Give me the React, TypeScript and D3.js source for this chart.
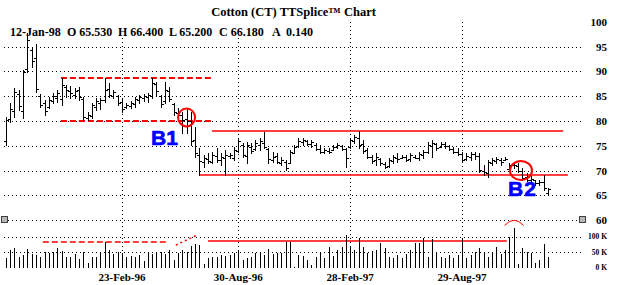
import React from 'react';
import * as d3 from 'd3';

// Weekly OHLC (Cotton CT), Aug-95 .. 12-Jan-98
const highs = [80.8,83.6,86.6,86.2,90.3,97.8,94.7,95.5,85.5,84.2,84.8,85.6,86.2,88.6,87.2,87.0,86.6,86.8,84.8,81.8,
  83.6,84.6,84.6,88.6,87.6,86.2,85.2,84.6,83.6,84.0,84.8,85.2,85.4,85.6,88.6,87.8,85.2,87.8,86.8,83.6,
  82.6,81.8,82.4,81.8,78.8,74.5,73.1,73.5,73.7,74.5,73.5,74.1,73.5,74.7,76.5,75.5,75.7,75.5,76.1,76.5,
  77.8,74.5,73.7,73.5,72.7,72.1,74.1,75.1,76.5,76.5,76.1,76.1,75.5,75.1,74.5,74.5,75.1,75.5,75.1,74.5,
  76.5,77.2,78.0,76.1,74.5,73.1,73.5,72.5,71.7,72.5,73.1,73.5,73.1,73.1,73.5,73.1,73.7,74.1,75.7,76.1,
  75.5,75.7,75.7,75.1,74.8,74.5,73.7,73.5,73.7,73.7,73.5,71.1,72.1,72.5,72.7,72.5,72.7,71.5,71.5,71.5,
  70.5,69.5,68.8,68.1,68.1,69.1,66.4];
const lows = [75.1,79.8,80.8,82.2,80.6,89.9,90.9,85.8,82.8,81.2,82.6,83.6,83.8,83.2,84.8,84.6,84.6,84.2,80.2,80.2,
  80.6,82.2,82.4,83.8,84.8,84.6,83.2,81.8,82.6,82.6,82.8,83.6,84.0,83.8,84.6,85.2,82.8,83.6,84.0,81.2,
  80.8,77.6,77.6,75.1,72.7,69.1,70.7,71.5,71.5,71.7,71.1,69.1,72.5,72.1,73.7,72.7,71.5,73.5,74.1,74.1,
  74.5,71.5,71.7,71.5,71.1,70.1,71.5,73.5,74.7,75.1,75.1,74.7,74.1,73.5,73.5,73.5,74.1,74.5,74.1,70.7,
  74.5,75.5,74.5,73.5,72.5,71.5,71.1,71.1,70.5,70.7,71.5,71.7,72.5,71.9,71.9,72.5,72.1,72.5,73.5,72.7,
  74.1,74.7,74.5,74.1,73.5,73.1,71.7,72.1,72.1,72.3,69.7,69.1,68.7,71.1,71.5,71.1,72.1,70.1,70.5,69.7,
  68.1,67.8,67.5,67.1,67.1,66.1,65.2];
const opens = [76.0,80.4,82.0,85.4,82.0,90.4,94.2,92.6,85.0,83.6,82.8,84.0,84.6,84.4,86.8,86.0,85.2,86.2,84.4,80.6,
  81.0,82.8,83.6,84.2,86.4,85.0,85.0,83.8,82.8,83.0,83.4,84.2,84.6,84.8,85.0,87.4,85.0,84.0,86.0,83.4,
  81.6,81.2,80.4,80.0,76.2,73.2,71.8,72.4,71.8,73.0,72.2,72.6,73.0,72.6,74.0,75.2,73.0,74.8,74.4,75.2,
  75.6,74.4,72.2,73.0,71.6,71.8,71.6,73.6,75.0,75.8,76.0,75.4,75.2,74.4,73.8,74.0,74.2,74.8,75.0,74.4,
  74.8,76.0,76.6,75.4,74.2,72.8,72.2,72.4,71.4,71.0,72.0,72.6,72.6,72.8,72.4,72.8,72.6,73.2,73.8,75.0,
  75.4,74.8,75.4,75.0,74.4,73.8,73.4,72.4,72.8,73.4,73.0,70.0,69.4,71.6,72.0,72.2,72.2,70.4,71.2,71.0,
  70.0,68.6,68.0,68.0,67.4,67.6,65.53];
const closes = [80.2,82.4,85.8,83.0,89.8,96.4,92.0,86.4,83.2,82.0,84.2,85.0,85.6,87.2,86.2,85.6,86.0,84.8,80.8,81.2,
  83.2,84.0,84.2,86.2,85.2,85.8,83.6,82.4,83.2,83.6,84.4,84.8,85.0,85.2,87.6,86.0,83.4,86.2,84.4,81.8,
  81.2,80.2,80.0,76.0,73.5,72.0,72.6,72.0,73.2,72.2,72.8,73.2,73.2,74.2,76.0,73.2,75.2,74.0,75.6,76.0,
  74.8,72.4,72.8,71.8,72.2,70.6,73.8,74.8,76.0,76.2,75.4,75.8,74.4,73.8,74.2,73.8,74.8,75.2,74.4,72.6,
  76.2,76.8,75.2,74.0,72.8,72.0,72.8,71.6,70.8,72.2,72.8,72.4,72.8,72.2,73.2,72.6,73.4,73.8,75.2,75.6,
  74.6,75.4,75.0,74.4,73.8,73.4,72.2,73.0,73.4,73.0,70.2,69.6,71.8,72.2,72.4,71.8,72.4,71.2,71.2,70.0,
  68.4,68.0,68.2,67.4,67.6,66.4,66.18];
// Weekly volume, thousands of contracts
const volumes = [30,57,63,35,41,60,44,41,35,51,46,51,62,53,33,35,44,27,51,16,
  33,35,51,82,57,44,51,46,35,37,33,41,22,51,44,46,51,44,57,25,
  46,57,51,71,76,72,13,30,35,35,41,37,41,46,57,25,30,35,46,51,
  41,59,44,47,46,84,84,3,41,39,25,9,33,46,30,68,37,57,68,105,
  68,57,97,68,46,53,57,79,62,35,30,41,30,44,57,79,79,97,35,94,
  46,35,30,41,30,41,97,30,41,51,62,51,35,51,68,44,57,100,127,12,
  62,51,46,16,25,76,35];

const dateTicks = ['23-Feb-96', '30-Aug-96', '28-Feb-97', '29-Aug-97'];
const dateTickIdx = [27, 54, 80, 106];
const priceTicks = [100, 95, 90, 85, 80, 75, 70, 65, 60];
const volTicks = [100, 50, 0];
const lastDate = '12-Jan-98';
const lastChange = 0.14;
const title = 'Cotton (CT) TTSplice\u2122 Chart';

// annotations in data units: [barFrom, barTo, value]
const dashedLevels = [[12.8, 48.1, 88.6], [12.8, 48.1, 80.0]];
const solidLevels = [[47.9, 129.5, 77.9], [44.9, 130.6, 69.1]];
const volDashed = [8.6, 37.7, 83.9];
const volSolid = [47.0, 116.4, 86.0];
const volDiag = [[39.5, 73], [44.7, 107]];
const circles = [[42.0, 80.7, 8.5, 9], [119.7, 70.0, 11, 9.5]];

const SERIF = "'Liberation Serif', 'Times New Roman', serif";
const SANS = "'Liberation Sans', Arial, sans-serif";

export default function App() {
  const n = highs.length;
  const x = d3.scaleLinear().domain([0, n - 1]).range([5.8, 548.1]);
  const y = d3.scaleLinear().domain([60, 100]).range([220.1, 21.7]);
  const yv = d3.scaleLinear().domain([0, 100]).range([267.7, 236.7]);
  const s = (v: number) => Math.round(v) + 0.5;
  const r = (v: number) => Math.round(v);

  const infoTexts = [lastDate, `O ${opens[n - 1].toFixed(3)}`, `H ${highs[n - 1].toFixed(3)}`,
    `L ${lows[n - 1].toFixed(3)}`, `C ${closes[n - 1].toFixed(3)}`, 'A', lastChange.toFixed(3)];
  const infoX = [10, 67, 118, 169, 219, 272, 286];

  const arc = d3.path();
  const ax = x(118.1);
  arc.moveTo(ax - 9.5, 225.5);
  arc.quadraticCurveTo(ax, 215, ax + 9.5, 225.5);

  return (
    <svg width={633} height={285} style={{ position: 'absolute', left: 0, top: 0, background: '#fff' }}>
      <rect x={0} y={0} width={633} height={285} fill="#fff" />
      {priceTicks.filter(p => p < 100).map(p => (
        <line key={'hg' + p} x1={4} x2={581} y1={s(y(p))} y2={s(y(p))} stroke="#000" strokeDasharray="1,3" />
      ))}
      {volTicks.filter(v => v > 0).map(v => (
        <line key={'vg' + v} x1={4} x2={581} y1={s(yv(v))} y2={s(yv(v))} stroke="#000" strokeDasharray="1,3" />
      ))}
      {dateTickIdx.map(i => (
        <line key={'vx' + i} x1={s(x(i))} x2={s(x(i))} y1={x(i) < 320 ? 38 : 22} y2={270} stroke="#000" strokeDasharray="1,3" />
      ))}
      {dashedLevels.map((d, k) => (
        <line key={'dl' + k} x1={x(d[0])} x2={x(d[1])} y1={r(y(d[2]))} y2={r(y(d[2]))} stroke="#ff0000" strokeWidth={2} strokeDasharray="6,3" />
      ))}
      {solidLevels.map((d, k) => (
        <line key={'sl' + k} x1={x(d[0])} x2={x(d[1])} y1={r(y(d[2]))} y2={r(y(d[2]))} stroke="#ff0000" strokeWidth={1.5} />
      ))}
      <line x1={x(volDashed[0])} x2={x(volDashed[1])} y1={r(yv(volDashed[2]))} y2={r(yv(volDashed[2]))} stroke="#ff0000" strokeWidth={1.5} strokeDasharray="6,3" />
      <line x1={x(volSolid[0])} x2={x(volSolid[1])} y1={r(yv(volSolid[2]))} y2={r(yv(volSolid[2]))} stroke="#ff0000" strokeWidth={1.5} />
      <line x1={x(volDiag[0][0])} y1={yv(volDiag[0][1])} x2={x(volDiag[1][0])} y2={yv(volDiag[1][1])} stroke="#ff0000" strokeWidth={1.5} strokeDasharray="2,3" />
      {highs.map((h, i) => {
        const cx = s(x(i));
        return (
          <g key={'b' + i} stroke="#000" strokeWidth={1} shapeRendering="crispEdges">
            <line x1={cx} x2={cx} y1={r(y(h))} y2={r(y(lows[i])) + 1} />
            <line x1={cx - 2.5} x2={cx} y1={s(y(opens[i]))} y2={s(y(opens[i]))} />
            <line x1={cx} x2={cx + 2.5} y1={s(y(closes[i]))} y2={s(y(closes[i]))} />
          </g>
        );
      })}
      {volumes.map((v, i) => (
        <line key={'v' + i} x1={s(x(i))} x2={s(x(i))} y1={r(yv(v))} y2={r(yv(0))} stroke="#000" shapeRendering="crispEdges" />
      ))}
      {circles.map((c, k) => (
        <ellipse key={'c' + k} cx={x(c[0])} cy={y(c[1])} rx={c[2]} ry={c[3]} fill="none" stroke="#ff0000" strokeWidth={2} />
      ))}
      <path d={arc.toString()} fill="none" stroke="#ff0000" strokeWidth={1} />
      <text x={151} y={145} fontFamily={SANS} fontWeight="bold" fontSize={21} fill="#0000ff" stroke="#0000ff" strokeWidth={0.6}>B1</text>
      <text x={508} y={196} fontFamily={SANS} fontWeight="bold" fontSize={21} fill="#0000ff" stroke="#0000ff" strokeWidth={0.6} letterSpacing={1}>B2</text>
      <rect x={1.5} y={216.5} width={6} height={6} fill="#b8b8b8" stroke="#404040" />
      <rect x={579.5} y={216.5} width={6} height={6} fill="#b8b8b8" stroke="#404040" />
      <text x={293.5} y={16} textAnchor="middle" fontFamily={SERIF} fontWeight="bold" fontSize={12.5} fill="#000">{title}</text>
      {infoTexts.map((t, k) => (
        <text key={'it' + k} x={infoX[k]} y={36} fontFamily={SERIF} fontWeight="bold" fontSize={12} fill="#000">{t}</text>
      ))}
      {priceTicks.map(p => (
        <text key={'pt' + p} x={607} y={y(p) + 4} textAnchor="end" fontFamily={SERIF} fontWeight="bold" fontSize={11} fill="#000">{p}</text>
      ))}
      {volTicks.map(v => (
        <text key={'vt' + v} x={607} y={yv(v) + 2.5} textAnchor="end" fontFamily={SERIF} fontWeight="bold" fontSize={7.5} fill="#000">{`${v} K`}</text>
      ))}
      {dateTicks.map((d, k) => (
        <text key={'dt' + k} x={x(dateTickIdx[k])} y={280.5} textAnchor="middle" fontFamily={SERIF} fontWeight="bold" fontSize={11} fill="#000">{d}</text>
      ))}
    </svg>
  );
}
